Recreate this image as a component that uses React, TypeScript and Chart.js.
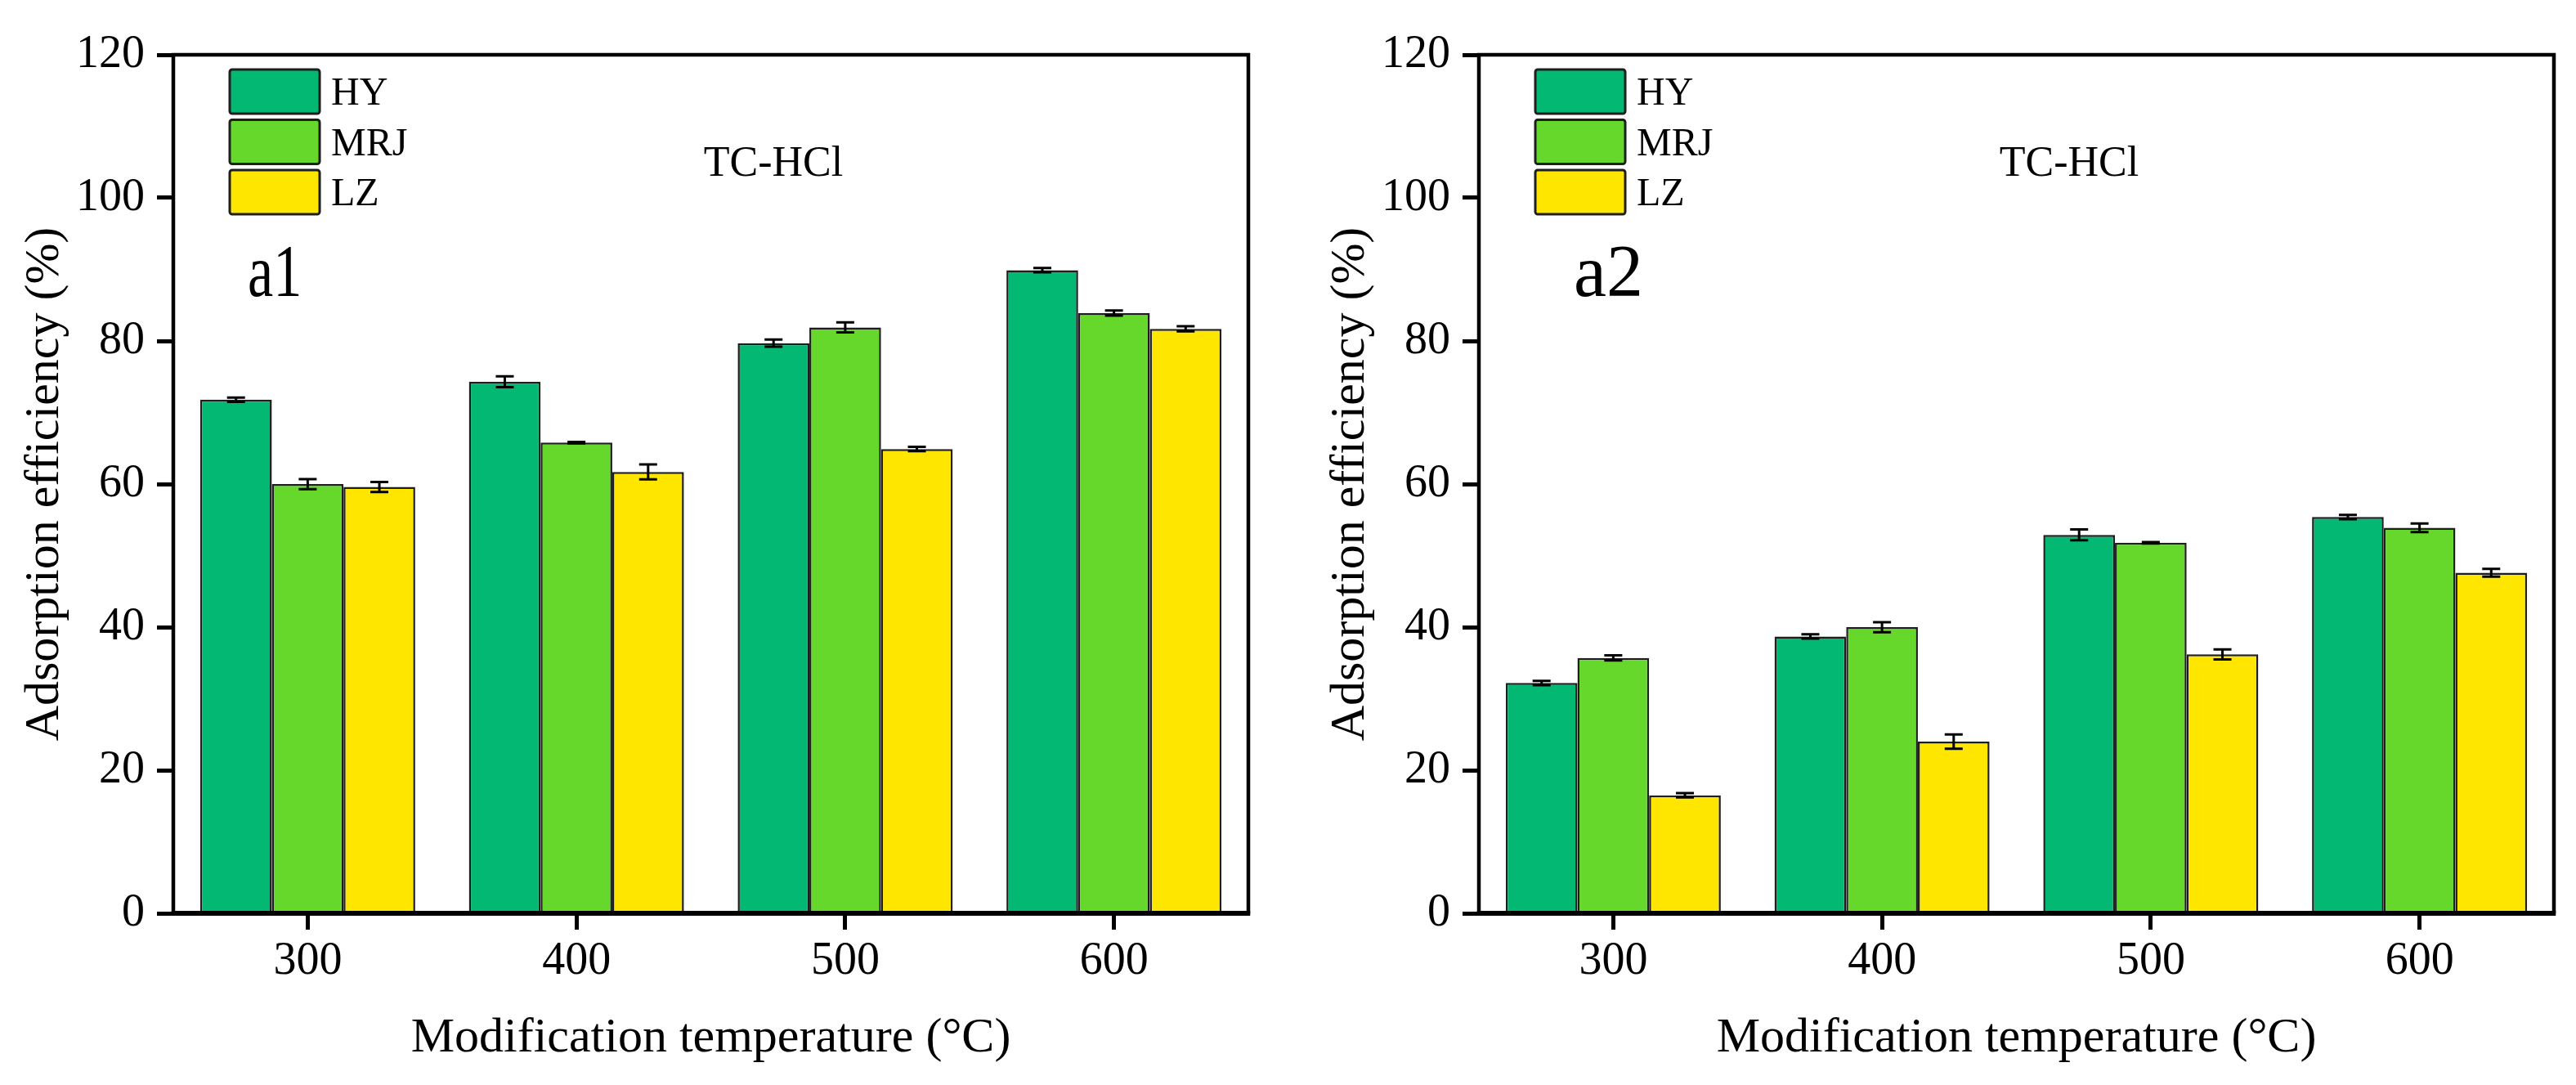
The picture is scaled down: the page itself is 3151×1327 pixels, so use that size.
import React, { useEffect, useRef } from 'react';
import { Chart, registerables } from 'chart.js';

Chart.register(...registerables);

const FONT = "'Liberation Serif', 'Times New Roman', serif";

// ---- data ----
const temperatures = [300, 400, 500, 600];
const seriesNames = ['HY', 'MRJ', 'LZ'];
const seriesColors = ['#02B872', '#66D82C', '#FFE600'];
const yTicks = [0, 20, 40, 60, 80, 100, 120];

// panel a1
const a1HY = [71.8, 74.3, 79.7, 89.9];
const a1MRJ = [60.0, 65.8, 81.9, 83.9];
const a1LZ = [59.6, 61.7, 64.9, 81.7];
const a1HYErr = [0.3, 0.75, 0.5, 0.3];
const a1MRJErr = [0.7, 0.1, 0.7, 0.35];
const a1LZErr = [0.7, 1.05, 0.3, 0.35];

// panel a2
const a2HY = [32.2, 38.7, 52.9, 55.4];
const a2MRJ = [35.7, 40.0, 51.8, 53.9];
const a2LZ = [16.5, 24.0, 36.2, 47.6];
const a2HYErr = [0.3, 0.3, 0.75, 0.3];
const a2MRJErr = [0.35, 0.7, 0.1, 0.6];
const a2LZErr = [0.3, 1.0, 0.7, 0.55];

const xTitle = 'Modification temperature (°C)';
const yTitle = 'Adsorption efficiency (%)';
const annotationText = 'TC-HCl';

const H = 1327;

type PanelProps = {
  width: number;
  padRight: number;
  values: number[][];
  errors: number[][];
  label: string;
  labelScaleX: number;
  labelOffset: number;
  annotationOffset: number;
};

const framePlugin = {
  id: 'frame',
  afterDatasetsDraw(chart: any) {
    const { ctx, chartArea } = chart;
    const { left, right, top, bottom } = chartArea;
    ctx.save();
    ctx.strokeStyle = '#000';
    ctx.lineWidth = 4.5;
    ctx.lineJoin = 'miter';
    ctx.beginPath();
    ctx.moveTo(left, bottom);
    ctx.lineTo(left, top);
    ctx.lineTo(right, top);
    ctx.lineTo(right, bottom);
    ctx.stroke();
    ctx.lineWidth = 6;
    ctx.beginPath();
    ctx.moveTo(left - 2.25, bottom);
    ctx.lineTo(right + 2.25, bottom);
    ctx.stroke();
    ctx.restore();
  },
};

const errorBarPlugin = {
  id: 'errorBars',
  afterDatasetsDraw(chart: any) {
    const { ctx } = chart;
    const yScale = chart.scales.y;
    ctx.save();
    ctx.strokeStyle = '#000';
    ctx.lineWidth = 3;
    chart.data.datasets.forEach((ds: any, i: number) => {
      const meta = chart.getDatasetMeta(i);
      meta.data.forEach((bar: any, j: number) => {
        const v = ds.data[j].y;
        const e = ds.errors[j];
        const yTop = yScale.getPixelForValue(v + e);
        const yBot = yScale.getPixelForValue(v - e);
        const cap = 11;
        ctx.beginPath();
        ctx.moveTo(bar.x, yTop);
        ctx.lineTo(bar.x, yBot);
        ctx.moveTo(bar.x - cap, yTop);
        ctx.lineTo(bar.x + cap, yTop);
        ctx.moveTo(bar.x - cap, yBot);
        ctx.lineTo(bar.x + cap, yBot);
        ctx.stroke();
      });
    });
    ctx.restore();
  },
};

function makeTextPlugin(label: string, labelScaleX: number, labelOffset: number, annotationOffset: number) {
  return {
    id: 'texts',
    afterDraw(chart: any) {
      const { ctx, chartArea } = chart;
      const left = chartArea.left;
      const top = chartArea.top;
      ctx.save();
      // legend
      chart.data.datasets.forEach((ds: any, i: number) => {
        const bx = left + 69;
        const by = top + 18 + i * 61.5;
        const bw = 110;
        const bh = 54;
        ctx.beginPath();
        if (ctx.roundRect) ctx.roundRect(bx, by, bw, bh, 3);
        else ctx.rect(bx, by, bw, bh);
        ctx.fillStyle = ds.backgroundColor;
        ctx.fill();
        ctx.lineWidth = 3;
        ctx.strokeStyle = '#1e1e1e';
        ctx.stroke();
        ctx.fillStyle = '#000';
        ctx.font = `48px ${FONT}`;
        ctx.textAlign = 'left';
        ctx.textBaseline = 'alphabetic';
        ctx.fillText(ds.label, left + 193, by + 43);
      });
      // annotation
      ctx.font = `52px ${FONT}`;
      ctx.textAlign = 'center';
      ctx.fillStyle = '#000';
      ctx.fillText(annotationText, left + annotationOffset, 215);
      // panel label
      ctx.save();
      ctx.translate(left + labelOffset, 362);
      ctx.scale(labelScaleX, 1);
      ctx.font = `90px ${FONT}`;
      ctx.textAlign = 'left';
      ctx.fillText(label, 0, 0);
      ctx.restore();
      ctx.restore();
    },
  };
}

function Panel({ width, padRight, values, errors, label, labelScaleX, labelOffset, annotationOffset }: PanelProps) {
  const ref = useRef<HTMLCanvasElement | null>(null);
  useEffect(() => {
    if (!ref.current) return;
    const tickFont = { family: FONT, size: 56 };
    const titleFont = { family: FONT, size: 60 };
    const chart = new Chart(ref.current, {
      type: 'bar',
      data: {
        datasets: seriesNames.map((name, i) => ({
          label: name,
          data: temperatures.map((t, j) => ({ x: t, y: values[i][j] })),
          errors: errors[i],
          backgroundColor: seriesColors[i],
          borderColor: '#1e1e1e',
          borderWidth: 2.5,
          categoryPercentage: 0.8,
          barPercentage: 1,
        })) as any,
      },
      options: {
        animation: false,
        responsive: false,
        maintainAspectRatio: false,
        devicePixelRatio: 1,
        layout: { padding: { left: 0, top: 67, right: padRight, bottom: 0 } },
        plugins: { legend: { display: false }, tooltip: { enabled: false } },
        scales: {
          x: {
            type: 'linear',
            min: 250,
            max: 650,
            offset: false,
            afterBuildTicks: (s: any) => {
              s.ticks = temperatures.map((v) => ({ value: v }));
            },
            afterFit: (s: any) => {
              s.height = 210;
            },
            grid: {
              display: true,
              drawOnChartArea: false,
              drawTicks: true,
              tickLength: 20,
              tickWidth: 5,
              tickColor: '#000',
              offset: false,
            },
            border: { display: false },
            ticks: {
              font: tickFont,
              color: '#000',
              padding: 6,
              maxRotation: 0,
              autoSkip: false,
              callback: (v: any) => String(v),
            },
            title: {
              display: true,
              text: xTitle,
              font: titleFont,
              color: '#000',
              padding: { top: 0, bottom: 21 },
            },
          },
          y: {
            min: 0,
            max: 120,
            afterBuildTicks: (s: any) => {
              s.ticks = yTicks.map((v) => ({ value: v }));
            },
            afterFit: (s: any) => {
              s.width = 212;
            },
            grid: {
              display: true,
              drawOnChartArea: false,
              drawTicks: true,
              tickLength: 20,
              tickWidth: 5,
              tickColor: '#000',
            },
            border: { display: false },
            ticks: { font: tickFont, color: '#000', padding: 15 },
            title: {
              display: true,
              text: yTitle,
              font: titleFont,
              color: '#000',
              padding: { top: 19, bottom: 0 },
            },
          },
        },
      } as any,
      plugins: [framePlugin, errorBarPlugin, makeTextPlugin(label, labelScaleX, labelOffset, annotationOffset)],
    });
    return () => chart.destroy();
  }, []);
  return <canvas ref={ref} width={width} height={H} style={{ display: 'block', width, height: H }} />;
}

export default function App() {
  return (
    <div
      style={{
        position: 'absolute',
        left: 0,
        top: 0,
        width: 3151,
        height: H,
        background: '#fff',
        display: 'flex',
        overflow: 'hidden',
      }}
    >
      <Panel
        width={1597}
        padRight={70}
        values={[a1HY, a1MRJ, a1LZ]}
        errors={[a1HYErr, a1MRJErr, a1LZErr]}
        label="a1"
        labelScaleX={0.78}
        labelOffset={91}
        annotationOffset={734}
      />
      <Panel
        width={1554}
        padRight={27}
        values={[a2HY, a2MRJ, a2LZ]}
        errors={[a2HYErr, a2MRJErr, a2LZErr]}
        label="a2"
        labelScaleX={1}
        labelOffset={116}
        annotationOffset={722}
      />
    </div>
  );
}
